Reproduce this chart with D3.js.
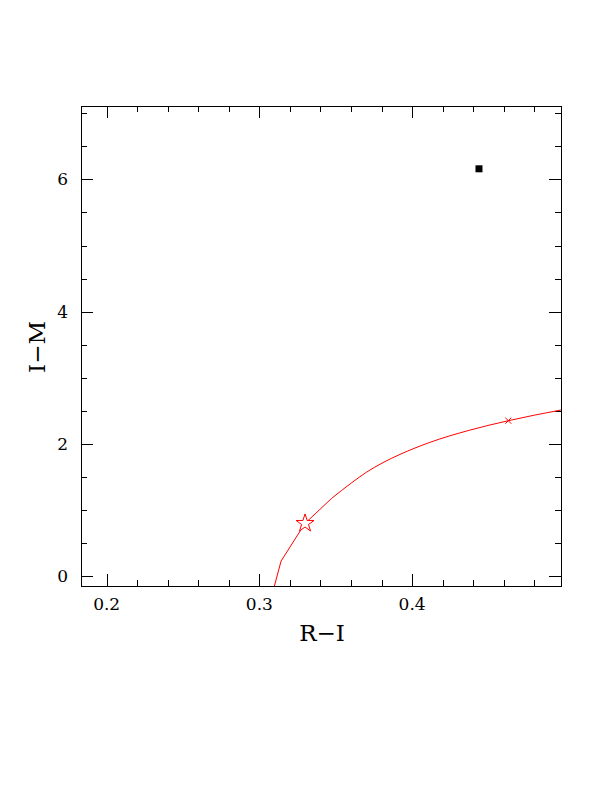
<!DOCTYPE html>
<html><head><meta charset="utf-8">
<script src="https://cdn.jsdelivr.net/npm/d3@7"></script>
<style>body{margin:0;background:#fff}svg{display:block}</style>
</head><body>
<script>
// data
const curveRI = [0.3081, 0.3142, 0.3299, 0.3473, 0.3604, 0.3702, 0.3810, 0.3920, 0.4116, 0.4377, 0.4630, 0.4972, 0.5050];
const curveIM = [-0.30, 0.227, 0.797, 1.175, 1.411, 1.572, 1.717, 1.840, 2.022, 2.207, 2.350, 2.511, 2.545];
const starPt = {ri: 0.3299, im: 0.797};
const crossPt = {ri: 0.4630, im: 2.350};
const obsPt = {ri: 0.4438, im: 6.16};
const xTickLabels = [0.2, 0.3, 0.4];
const yTickLabels = [0, 2, 4, 6];
const xMinor = d3.range(0.20, 0.50, 0.02);
const yMinor = d3.range(0, 7.01, 0.5);

const W = 612, H = 792;
const L = 81, R = 561, T = 106, B = 586;
const svg = d3.select("body").append("svg").attr("width", W).attr("height", H);
const x = d3.scaleLinear().domain([0.1832, 0.4975]).range([L, R]);
const y = d3.scaleLinear().domain([-0.15, 7.11]).range([B, T]);

svg.append("defs").append("clipPath").attr("id", "clip")
  .append("rect").attr("x", L).attr("y", T).attr("width", R - L).attr("height", B - T);

const font = "'DejaVu Serif', serif";
function tickAxis(axisGen, transform, len) {
  const g = svg.append("g").attr("transform", transform)
    .call(axisGen.tickSize(len).tickFormat(""));
  g.select(".domain").remove();
  g.selectAll("line").attr("stroke", "#000").attr("stroke-width", 1).attr("shape-rendering", "crispEdges");
  return g;
}
tickAxis(d3.axisTop(x).tickValues(xMinor), `translate(0,${B})`, 6);
tickAxis(d3.axisTop(x).tickValues(xTickLabels), `translate(0,${B})`, 12);
tickAxis(d3.axisBottom(x).tickValues(xMinor), `translate(0,${T})`, 6);
tickAxis(d3.axisBottom(x).tickValues(xTickLabels), `translate(0,${T})`, 12);
tickAxis(d3.axisRight(y).tickValues(yMinor), `translate(${L},0)`, 6);
tickAxis(d3.axisRight(y).tickValues(yTickLabels), `translate(${L},0)`, 12);
tickAxis(d3.axisLeft(y).tickValues(yMinor), `translate(${R},0)`, 6);
tickAxis(d3.axisLeft(y).tickValues(yTickLabels), `translate(${R},0)`, 12);

svg.append("rect").attr("x", L).attr("y", T).attr("width", R - L).attr("height", B - T)
  .attr("fill", "none").attr("stroke", "#000").attr("stroke-width", 1).attr("shape-rendering", "crispEdges");

svg.append("g").selectAll("text").data(xTickLabels).join("text")
  .attr("x", d => x(d)).attr("y", 610).attr("text-anchor", "middle")
  .attr("font-family", font).attr("font-size", 17).text(d => d3.format(".1f")(d));
svg.append("g").selectAll("text").data(yTickLabels).join("text")
  .attr("x", 68).attr("y", d => y(d) + 6).attr("text-anchor", "end")
  .attr("font-family", font).attr("font-size", 17).text(d => d);

svg.append("text").attr("x", 322).attr("y", 641).attr("text-anchor", "middle")
  .attr("font-family", font).attr("font-size", 23).text("R\u2212I");
svg.append("text").attr("transform", "translate(45,347) rotate(-90)").attr("text-anchor", "middle")
  .attr("font-family", font).attr("font-size", 23).text("I\u2212M");

const pts = curveRI.map((d, i) => [d, curveIM[i]]);
const plot = svg.append("g").attr("clip-path", "url(#clip)");
plot.append("path").datum(pts.slice(0, 4))
  .attr("d", d3.line().x(d => x(d[0])).y(d => y(d[1])))
  .attr("fill", "none").attr("stroke", "#ff0000").attr("stroke-width", 1);
plot.append("path").datum(pts.slice(3))
  .attr("d", d3.line().curve(d3.curveMonotoneX).x(d => x(d[0])).y(d => y(d[1])))
  .attr("fill", "none").attr("stroke", "#ff0000").attr("stroke-width", 1);

plot.append("path")
  .attr("d", d3.symbol(d3.symbolStar, 100)())
  .attr("transform", `translate(${x(starPt.ri)},${y(starPt.im)})`)
  .attr("fill", "#fff").attr("stroke", "#ff0000").attr("stroke-width", 1);
plot.append("path")
  .attr("d", "M-3,-3L3,3M-3,3L3,-3")
  .attr("transform", `translate(${x(crossPt.ri)},${y(crossPt.im)})`)
  .attr("stroke", "#ff0000").attr("stroke-width", 1);
plot.append("rect")
  .attr("x", x(obsPt.ri) - 3.5).attr("y", y(obsPt.im) - 3.5).attr("width", 7).attr("height", 7)
  .attr("fill", "#000");
</script>
</body></html>
